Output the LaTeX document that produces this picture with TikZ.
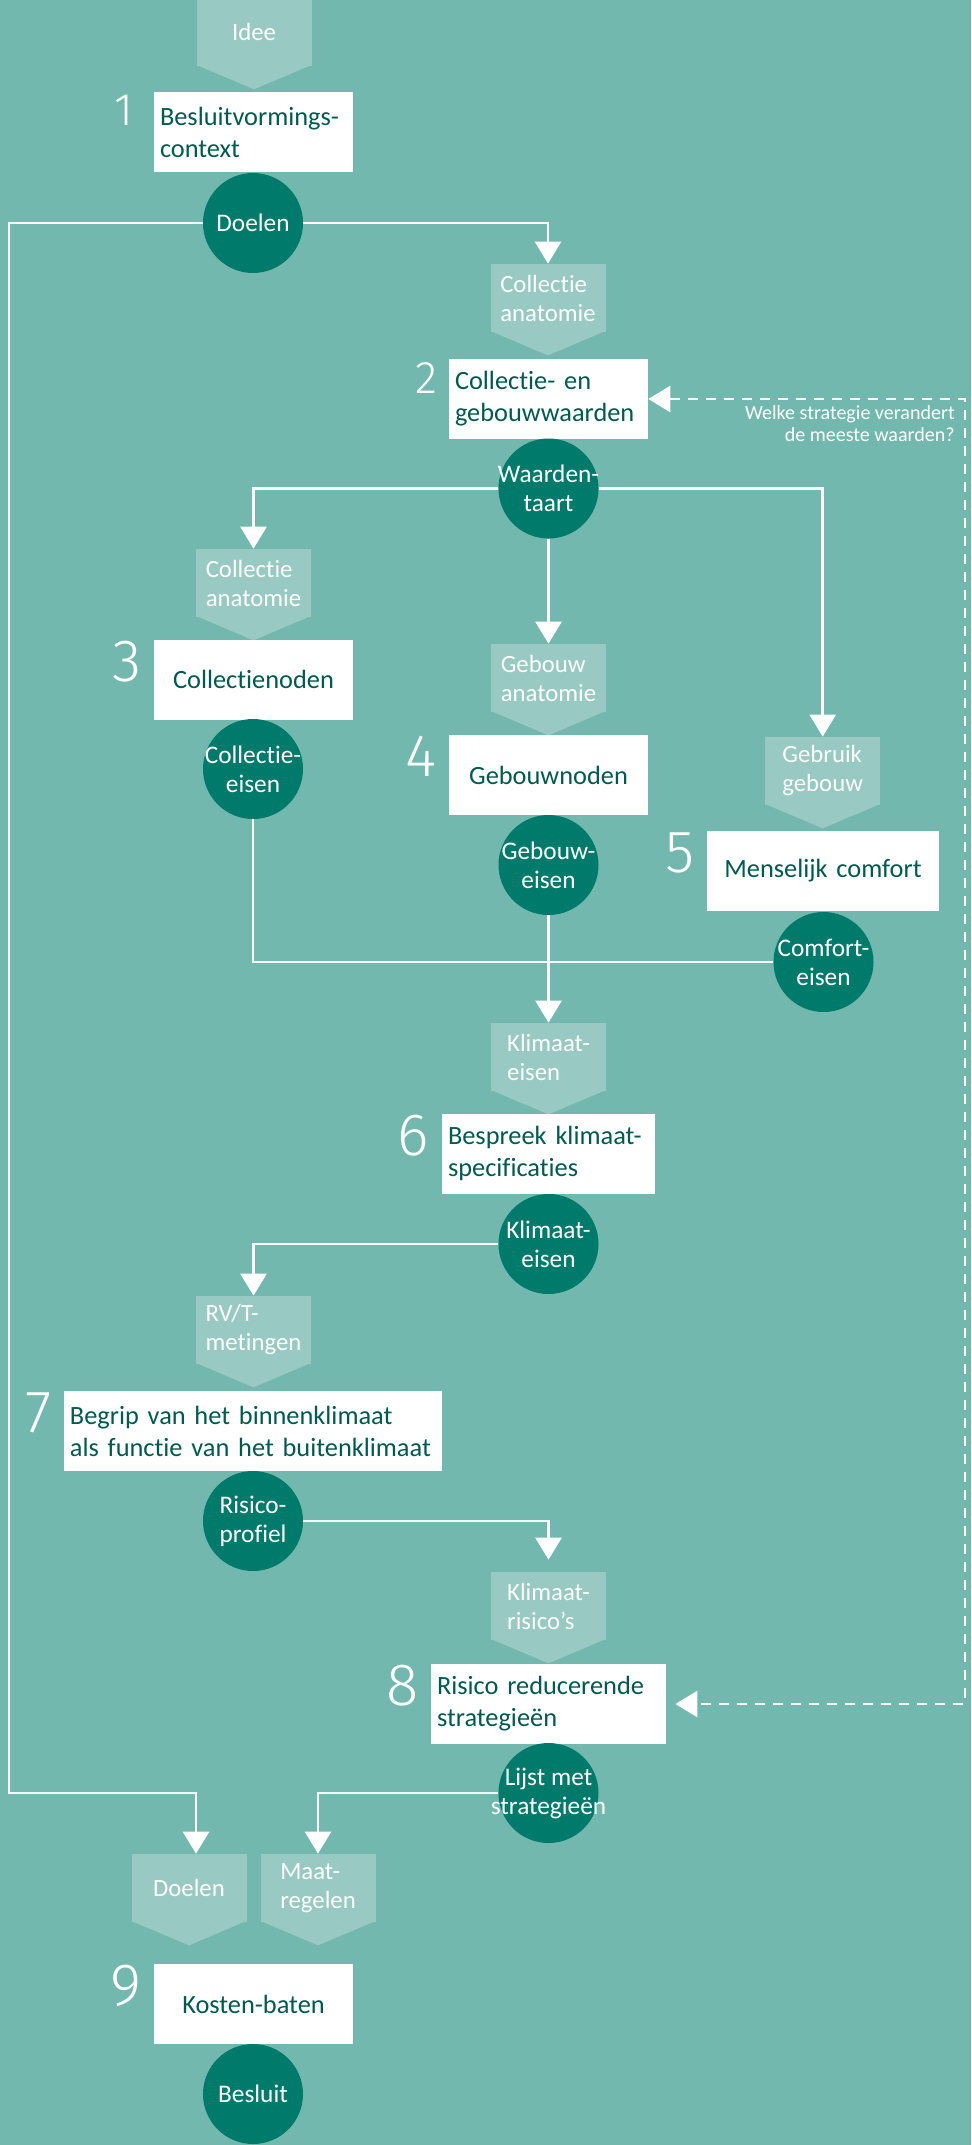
\documentclass[tikz,border=0pt]{standalone}
\usepackage{fontspec}
\setmainfont{Carlito}[Ligatures=NoCommon]
\newfontfamily\numfont{Fira Sans}[UprightFont={* Light}]
\usetikzlibrary{arrows.meta}
\definecolor{achtergrond}{HTML}{72B8AE}
\definecolor{donker}{HTML}{007A6A}
\definecolor{licht}{HTML}{98C9C2}
\definecolor{tekst}{HTML}{005A4F}
% label met punt naar beneden: naam, plaats, tekst
\newcommand\tagnode[3]{\node[tag] (#1) at (#2) {#3};
	\fill[licht] ([yshift=0.3mm]#1.south west) -- ([yshift=0.3mm]#1.south east) -- ([yshift=-4.6mm]#1.south) -- cycle;}
\begin{document}
\begin{tikzpicture}[x=0.2mm,y=-0.2mm,font=\fontsize{14.1}{16.5}\selectfont]
	\tikzset{tag/.style={fill=licht,text=white,align=left,minimum width=23mm,minimum height=13.6mm,inner sep=1mm},
		blok/.style={fill=white,text=tekst,font=\fontsize{15}{18.2}\selectfont,minimum height=16mm,inner xsep=1.2mm,inner ysep=0.5mm,text width=#1,align=left},
		rond/.style={circle,fill=donker,text=white,font=\fontsize{14.4}{16.5}\selectfont,minimum size=20mm,inner sep=-6mm,align=center},
		nr/.style={text=white,font=\numfont\fontsize{34}{34}\selectfont,inner sep=0pt,anchor=north east},
		lijn/.style={draw=white,line width=0.55mm},
		pijl/.style={lijn,-{Triangle[length=4.4mm,width=5.2mm]}}}
	\fill[achtergrond] (0,0) rectangle (971,2145);
	\useasboundingbox (0,0) rectangle (971,2145);
	% labels
	\tagnode{t1}{254,32}{Idee}
	\tagnode{t2}{548,298}{Collectie\\anatomie}
	\tagnode{t3}{253.5,583}{Collectie\\anatomie}
	\tagnode{t4}{548.5,678}{Gebouw\\anatomie}
	\tagnode{t5}{822.7,771}{Gebruik\\gebouw}
	\tagnode{t6}{548.5,1057}{Klimaat-\\eisen}
	\tagnode{t7}{253.5,1330}{RV/T-\\metingen}
	\tagnode{t8}{548.5,1606}{Klimaat-\\risico’s}
	\tagnode{t9a}{189,1888}{Doelen}
	\tagnode{t9b}{318,1888}{Maat-\\regelen}
	% stappen
	\node[blok=37.4mm] (b1) at (253.5,132) {Besluitvormings-\\context};
	\node[blok=37.4mm] (b2) at (548.5,399) {Collectie- en\\gebouwwaarden};
	\node[blok=37.4mm,align=center] (b3) at (253.5,679.5) {Collectienoden};
	\node[blok=37.4mm,align=center] (b4) at (548.5,775) {Gebouwnoden};
	\node[blok=44mm,align=center] (b5) at (823,871) {Menselijk comfort};
	\node[blok=40.2mm] (b6) at (548.5,1153.5) {Bespreek klimaat-\\specificaties};
	\node[blok=73.1mm] (b7) at (252.75,1431) {Begrip van het binnenklimaat\\als functie van het buitenklimaat};
	\node[blok=44.6mm] (b8) at (548.5,1704) {Risico reducerende\\strategieën};
	\node[blok=37.4mm,align=center] (b9) at (253.5,2004) {Kosten-baten};
	% nummers
	\node[nr,font=\numfont\fontsize{26}{26}\selectfont] (n1) at ([xshift=-4mm,yshift=-0.6mm]b1.north west) {1};
	\node[nr,font=\numfont\fontsize{26}{26}\selectfont] (n2) at ([xshift=-2.2mm,yshift=-0.8mm]b2.north west) {2};
	\foreach \n in {3,...,9}{\node[nr] (n\n) at ([xshift=-2.4mm,yshift=-0.3mm]b\n.north west) {\n};}
	% resultaten
	\foreach \nm/\xy/\txt in {c1/{253,223}/Doelen, c2/{548.5,488.5}/{Waarden-\\taart}, c3/{253,769}/{Collectie-\\eisen},
		c4/{548.5,865}/{Gebouw-\\eisen}, c5/{823.5,962}/{Comfort-\\eisen}, c6/{548.5,1244}/{Klimaat-\\eisen},
		c7/{253,1521}/{Risico-\\profiel}, c8/{548.5,1793}/{Lijst met\\strategieën}, c9/{253,2094}/Besluit}
		{\node[rond] (\nm) at (\xy) {\txt};}
	\node[anchor=north east,align=right,text=white,font=\fontsize{11.4}{12.6}\selectfont,inner sep=0pt] (vraag) at (955,405) {Welke strategie verandert\\de meeste waarden?};
	% verbindingen
	\coordinate (links) at (9,1793);
	\coordinate (rechts) at (965,1000);
	\draw[pijl] (c1.east) -| (t2.north);
	\draw[pijl] (c1.west) -| (links) -| ([xshift=1.4mm]t9a.north);
	\draw[pijl] (c2.west) -| (t3.north);
	\draw[pijl] (c2.south) -- (t4.north);
	\draw[pijl] (c2.east) -| (t5.north);
	\draw[lijn] (c3.south) |- (c5.west);
	\draw[pijl] (c4.south) -- (t6.north);
	\draw[pijl] (c6.west) -| (t7.north);
	\draw[pijl,shorten >=2.4mm] (c7.east) -| (t8.north);
	\draw[pijl] (c8.west) -| (t9b.north);
	\draw[lijn,dash pattern=on 2mm off 1.6mm,{Triangle[length=4.4mm,width=5.2mm]}-{Triangle[length=4.4mm,width=5.2mm]},shorten >=1.8mm] (b2.east) -| (rechts) |- (b8.east);
\end{tikzpicture}
\end{document}
